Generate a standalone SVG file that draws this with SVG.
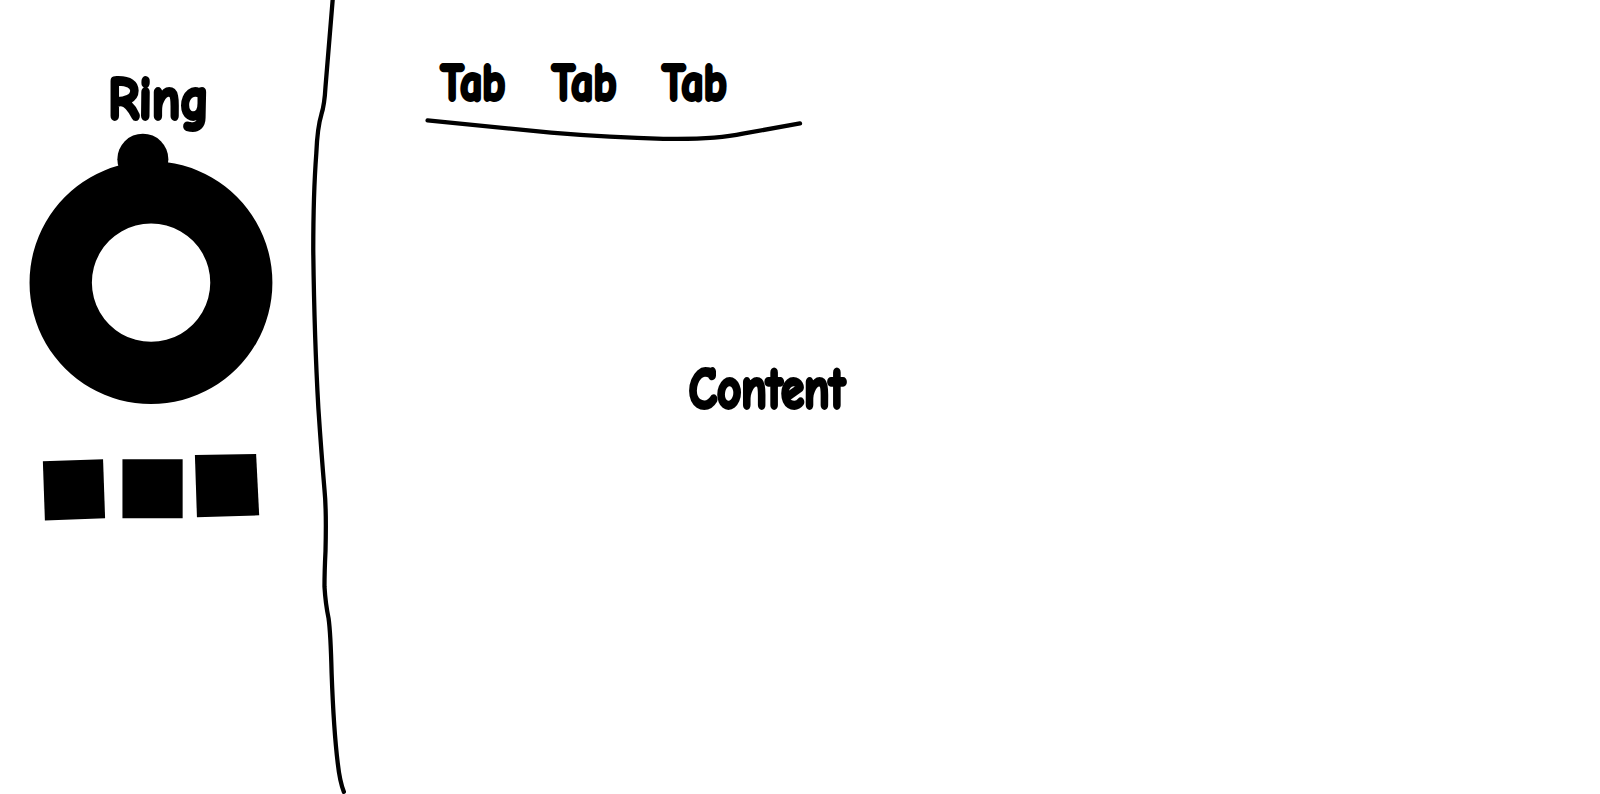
<svg xmlns="http://www.w3.org/2000/svg" width="1600" height="794" viewBox="0 0 1600 794">
<style>
.t{font-family:"Comic Neue","Lato","Liberation Sans",sans-serif;font-weight:900;fill:#000;stroke:#000;stroke-width:3.8;stroke-linejoin:round;paint-order:stroke}
.ln{fill:none;stroke:#000;stroke-width:4.2;stroke-linecap:round;stroke-linejoin:round}
.blk{fill:#000;stroke:none}
</style>
<rect width="1600" height="794" fill="#fff"/>
<g transform="scale(1.0204)">
<g id="connectors">
<path id="divider" class="ln" d="M326,0 L319,85 Q318,103 315,112 Q311,125 310,150 Q307,190 307,245 Q308,330 312,400 Q315,445 318,480 Q320,500 319,540 Q318,560 318,575 Q319,592 322,606 Q324,620 325,660 Q327,715 331,748 Q333,766 337,776"/>
<path id="tab-underline" class="ln" d="M419,118 Q480,124 540,130 Q600,135 650,136 Q700,137 728,131 Q756,126 784,121"/>
</g>
<g id="ring-label">
<text class="t" x="106" y="117" font-size="60" textLength="99" lengthAdjust="spacingAndGlyphs">Ring</text>
</g>
<g id="ring">
<circle class="blk" cx="140" cy="156" r="25"/>
<path class="blk" fill-rule="evenodd" d="M148,158 A119,119 0 1 1 147.9,158 Z M148,219 A58,58 0 1 0 148.1,219 Z"/>
</g>
<g id="square-1"><polygon class="blk" points="42,452 101,450 103,508 44,510"/></g>
<g id="square-2"><polygon class="blk" points="120,450 179,450 179,508 120,508"/></g>
<g id="square-3"><polygon class="blk" points="191,446 251,445 254,505 193,507"/></g>
<g id="tab-1"><text class="t" x="432" y="98" font-size="51" textLength="63" lengthAdjust="spacingAndGlyphs">Tab</text></g>
<g id="tab-2"><text class="t" x="541" y="98" font-size="51" textLength="63" lengthAdjust="spacingAndGlyphs">Tab</text></g>
<g id="tab-3"><text class="t" x="649" y="98" font-size="51" textLength="63" lengthAdjust="spacingAndGlyphs">Tab</text></g>
<g id="content"><text class="t" x="675" y="400" font-size="57" textLength="153" lengthAdjust="spacingAndGlyphs">Content</text></g>
</g>
</svg>
